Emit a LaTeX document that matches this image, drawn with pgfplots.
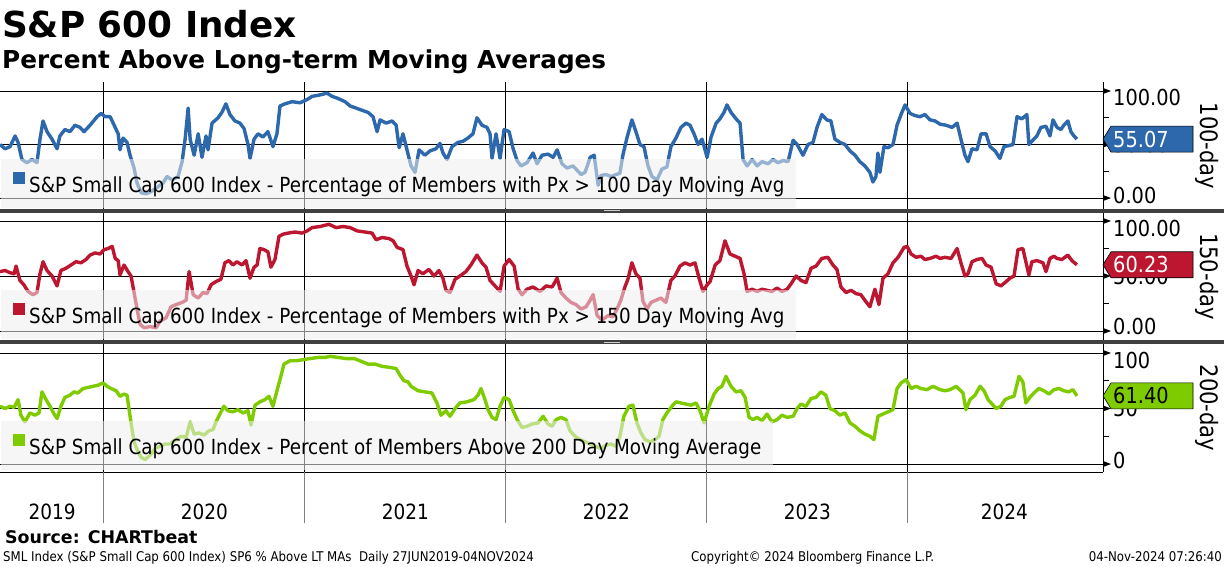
\documentclass[border=0pt]{standalone}
\usepackage{fontspec}
\setmainfont{DejaVu Sans}[FakeStretch=0.88]
\newfontfamily\bbold{DejaVu Sans}
\usepackage{pgfplots}
\pgfplotsset{compat=1.18}
\definecolor{bbblue}{RGB}{44,104,171}
\definecolor{bbred}{RGB}{189,22,48}
\definecolor{bbgreen}{RGB}{126,204,0}
\definecolor{legendgray}{RGB}{240,240,240}
\definecolor{sepgray}{RGB}{64,64,64}
\pgfplotsset{
  bbpanel/.style={
    scale only axis, width=1103pt,
    xmin=2019.483, xmax=2024.971,
    axis y line=right, axis x line=bottom,
    axis line style={-},
    x axis line style={draw=none},
    y axis line style={line width=0.9pt, black},
    xtick={2020,2021,2022,2023,2024},
    xticklabels={,,,,},
    xmajorgrids, ymajorgrids,
    major grid style={black, line width=0.9pt},
    ytick={0,50,100}, minor ytick={25,75},
    tick align=outside,
    major tick length=0pt, minor tick length=6pt,
    minor tick style={black, line width=0.9pt},
    /pgf/number format/assume math mode=true,
    yticklabel style={anchor=west, inner sep=0pt, xshift=10pt, text height=16pt, text depth=0pt, font=\fontsize{22}{22}\selectfont},
    clip=false,
    legend style={anchor=south west, fill=legendgray, fill opacity=0.55, text opacity=1, draw=none,
      inner xsep=12pt, inner ysep=13.5pt, font=\fontsize{20.8}{23}\selectfont,
      nodes={inner sep=0pt, text height=19.5pt, text depth=1.5pt},
      /tikz/every odd column/.append style={column sep=4pt}},
    legend cell align=left,
    legend image code/.code={\fill[##1, fill opacity=1, draw=none] (0pt,-0.5pt) rectangle (12pt,11.5pt);},
  }
}
\begin{document}
\begin{tikzpicture}
\useasboundingbox (0pt,0pt) rectangle (1224pt,-566pt);
\fill[white] (0pt,0pt) rectangle (1224pt,-566pt);
% ---------- Panel 1 : 100-day
\begin{axis}[bbpanel, at={(0pt,-210pt)}, anchor=south west, height=128pt,
  ymin=-11.2, ymax=108.4,
  yticklabels={{\raisebox{3pt}{0.00}},{50.00},{\raisebox{-7pt}{100.00}}},
  legend style={at={(0.0009,0.0156)}}]
\addplot[bbblue, line width=3.4pt, line join=round] coordinates {
(2019.483,50)(2019.508,46)(2019.533,48)(2019.558,58)(2019.573,52)(2019.592,36)(2019.617,33)(2019.642,36)(2019.667,33)(2019.682,55)(2019.697,72)(2019.717,62)(2019.742,55)(2019.767,46)(2019.781,58)(2019.806,64)(2019.831,62)(2019.856,68)(2019.881,66)(2019.901,62)(2019.931,68)(2019.966,76)(2019.986,79)(2020.006,76)(2020.031,76)(2020.056,66)(2020.071,60)(2020.080,45)(2020.095,56)(2020.115,52)(2020.130,40)(2020.150,28)(2020.165,14)(2020.185,5)(2020.210,4)(2020.235,6)(2020.265,10)(2020.294,14)(2020.314,20)(2020.339,17)(2020.369,20)(2020.389,34)(2020.404,55)(2020.419,84)(2020.429,55)(2020.449,40)(2020.469,60)(2020.488,38)(2020.508,58)(2020.518,45)(2020.538,70)(2020.568,75)(2020.587,80)(2020.607,88)(2020.627,78)(2020.652,72)(2020.677,70)(2020.697,65)(2020.717,50)(2020.727,37)(2020.747,55)(2020.767,60)(2020.791,57)(2020.816,62)(2020.841,48)(2020.861,60)(2020.876,86)(2020.901,88)(2020.936,90)(2020.976,89)(2021.011,92)(2021.036,95)(2021.066,96)(2021.090,97)(2021.110,98)(2021.135,95)(2021.165,93)(2021.200,90)(2021.225,86)(2021.255,84)(2021.284,82)(2021.314,80)(2021.339,76)(2021.359,62)(2021.374,73)(2021.404,70)(2021.434,72)(2021.454,68)(2021.469,47)(2021.488,60)(2021.508,45)(2021.528,30)(2021.548,24)(2021.568,45)(2021.597,40)(2021.622,44)(2021.652,46)(2021.672,51)(2021.687,42)(2021.707,36)(2021.732,48)(2021.762,52)(2021.786,53)(2021.811,56)(2021.836,60)(2021.856,75)(2021.881,68)(2021.906,66)(2021.921,60)(2021.931,37)(2021.951,60)(2021.971,37)(2021.991,64)(2022.016,62)(2022.036,46)(2022.056,35)(2022.075,30)(2022.105,33)(2022.135,42)(2022.155,32)(2022.180,40)(2022.210,41)(2022.235,38)(2022.255,45)(2022.279,32)(2022.304,28)(2022.334,30)(2022.354,26)(2022.374,22)(2022.394,24)(2022.419,38)(2022.439,40)(2022.459,12)(2022.473,21)(2022.498,22)(2022.523,20)(2022.548,22)(2022.567,23)(2022.582,40)(2022.602,56)(2022.627,73)(2022.647,62)(2022.667,50)(2022.687,48)(2022.707,30)(2022.727,20)(2022.752,17)(2022.776,27)(2022.801,29)(2022.821,48)(2022.846,56)(2022.871,66)(2022.896,70)(2022.916,68)(2022.936,60)(2022.956,50)(2022.976,55)(2023.001,38)(2023.021,57)(2023.046,70)(2023.065,74)(2023.085,80)(2023.100,87)(2023.120,80)(2023.145,74)(2023.165,70)(2023.180,36)(2023.200,30)(2023.225,36)(2023.250,30)(2023.274,34)(2023.304,32)(2023.329,36)(2023.354,33)(2023.379,35)(2023.404,34)(2023.429,54)(2023.449,50)(2023.478,40)(2023.503,50)(2023.528,52)(2023.548,66)(2023.572,78)(2023.597,73)(2023.617,72)(2023.637,55)(2023.662,52)(2023.687,50)(2023.712,44)(2023.737,40)(2023.761,34)(2023.786,30)(2023.811,24)(2023.826,15)(2023.841,20)(2023.851,42)(2023.861,24)(2023.881,48)(2023.901,47)(2023.926,50)(2023.946,68)(2023.966,78)(2023.986,87)(2024.011,79)(2024.036,77)(2024.060,76)(2024.085,78)(2024.110,73)(2024.135,72)(2024.160,69)(2024.190,68)(2024.220,66)(2024.245,70)(2024.264,55)(2024.284,40)(2024.299,34)(2024.319,46)(2024.344,45)(2024.364,60)(2024.389,60)(2024.409,48)(2024.434,44)(2024.458,37)(2024.478,48)(2024.503,49)(2024.523,50)(2024.543,76)(2024.567,74)(2024.592,78)(2024.602,50)(2024.622,54)(2024.642,58)(2024.662,66)(2024.687,67)(2024.707,58)(2024.722,73)(2024.742,66)(2024.761,64)(2024.776,68)(2024.796,72)(2024.811,62)(2024.826,58)(2024.841,55.07)
};
\addlegendentry{S\&P Small Cap 600 Index - Percentage of Members with Px > 100 Day Moving Avg}
\coordinate (a100) at (axis cs:2024.971,100);
\coordinate (a50) at (axis cs:2024.971,50);
\coordinate (a0) at (axis cs:2024.971,0);
\coordinate (t1) at (axis cs:2024.971,55.07);
\coordinate (r1) at (rel axis cs:1,0.5);
\end{axis}
\foreach \c in {a100,a50,a0} {\fill (\c) ++(0pt,3pt) -- ++(8pt,-3pt) -- ++(-8pt,-3pt) -- cycle;}
% ---------- Panel 2 : 150-day
\begin{axis}[bbpanel, at={(0pt,-340pt)}, anchor=south west, height=127pt,
  ymin=-8.18, ymax=107.27,
  yticklabels={{\raisebox{5pt}{0.00}},{50.00},{\raisebox{-7pt}{100.00}}},
  legend style={at={(0.0009,0.008)}}]
\addplot[bbred, line width=3.4pt, line join=round] coordinates {
(2019.483,54)(2019.508,55)(2019.533,53)(2019.553,52)(2019.563,59)(2019.582,46)(2019.602,42)(2019.622,36)(2019.647,33)(2019.667,35)(2019.682,52)(2019.697,63)(2019.717,55)(2019.742,50)(2019.767,41)(2019.786,55)(2019.811,57)(2019.836,60)(2019.861,63)(2019.886,62)(2019.911,65)(2019.931,69)(2019.956,71)(2019.981,70)(2020.001,74)(2020.021,75)(2020.041,77)(2020.056,66)(2020.071,64)(2020.080,51)(2020.100,60)(2020.120,54)(2020.135,50)(2020.150,35)(2020.165,20)(2020.180,6)(2020.200,3)(2020.230,4)(2020.260,3)(2020.279,9)(2020.309,12)(2020.334,22)(2020.359,24)(2020.389,26)(2020.409,28)(2020.424,54)(2020.444,33)(2020.469,30)(2020.493,35)(2020.513,34)(2020.533,42)(2020.558,45)(2020.582,47)(2020.602,62)(2020.622,64)(2020.642,60)(2020.662,63)(2020.687,60)(2020.707,64)(2020.727,48)(2020.747,58)(2020.762,60)(2020.776,75)(2020.796,74)(2020.816,72)(2020.831,58)(2020.851,65)(2020.871,86)(2020.891,88)(2020.916,89)(2020.951,90)(2020.986,89)(2021.011,91)(2021.036,94)(2021.075,95)(2021.120,97)(2021.155,94)(2021.190,95)(2021.225,94)(2021.260,91)(2021.299,90)(2021.334,89)(2021.354,83)(2021.384,85)(2021.419,84)(2021.439,82)(2021.459,76)(2021.488,74)(2021.508,59)(2021.528,50)(2021.543,42)(2021.563,55)(2021.587,52)(2021.617,56)(2021.642,50)(2021.667,55)(2021.687,48)(2021.702,37)(2021.722,35)(2021.747,47)(2021.771,50)(2021.801,54)(2021.826,60)(2021.856,69)(2021.881,62)(2021.901,58)(2021.921,46)(2021.941,42)(2021.971,36)(2021.991,59)(2022.016,65)(2022.041,59)(2022.061,38)(2022.080,33)(2022.105,38)(2022.135,40)(2022.170,36)(2022.200,41)(2022.230,40)(2022.255,48)(2022.274,35)(2022.299,30)(2022.324,26)(2022.349,24)(2022.374,20)(2022.399,22)(2022.419,28)(2022.434,33)(2022.454,14)(2022.478,10)(2022.508,14)(2022.533,13)(2022.553,20)(2022.572,28)(2022.592,40)(2022.607,47)(2022.627,62)(2022.647,52)(2022.667,48)(2022.682,27)(2022.702,20)(2022.722,26)(2022.747,28)(2022.771,30)(2022.796,26)(2022.821,46)(2022.841,50)(2022.866,59)(2022.891,62)(2022.916,60)(2022.941,62)(2022.961,48)(2022.981,36)(2023.001,42)(2023.016,45)(2023.041,60)(2023.065,64)(2023.090,82)(2023.115,70)(2023.140,68)(2023.165,66)(2023.185,52)(2023.200,36)(2023.225,38)(2023.250,36)(2023.274,38)(2023.299,37)(2023.324,36)(2023.349,39)(2023.374,36)(2023.399,38)(2023.419,43)(2023.444,50)(2023.468,46)(2023.493,44)(2023.518,57)(2023.543,59)(2023.572,66)(2023.602,67)(2023.627,60)(2023.647,56)(2023.667,40)(2023.692,35)(2023.717,37)(2023.742,34)(2023.766,33)(2023.786,28)(2023.811,22)(2023.836,38)(2023.856,24)(2023.876,48)(2023.901,52)(2023.926,62)(2023.951,67)(2023.981,76)(2023.996,77)(2024.016,70)(2024.041,67)(2024.065,68)(2024.085,65)(2024.110,66)(2024.140,68)(2024.160,66)(2024.185,67)(2024.215,66)(2024.245,75)(2024.264,62)(2024.284,50)(2024.299,52)(2024.319,63)(2024.344,65)(2024.369,66)(2024.389,60)(2024.414,58)(2024.439,43)(2024.463,41)(2024.483,44)(2024.508,48)(2024.528,50)(2024.548,74)(2024.572,75)(2024.602,51)(2024.617,63)(2024.642,64)(2024.672,62)(2024.687,54)(2024.707,66)(2024.727,68)(2024.742,66)(2024.766,65)(2024.796,69)(2024.816,64)(2024.841,60.23)
};
\addlegendentry{S\&P Small Cap 600 Index - Percentage of Members with Px > 150 Day Moving Avg}
\coordinate (b100) at (axis cs:2024.971,100);
\coordinate (b50) at (axis cs:2024.971,50);
\coordinate (b0) at (axis cs:2024.971,0);
\coordinate (t2) at (axis cs:2024.971,60.23);
\coordinate (r2) at (rel axis cs:1,0.5);
\end{axis}
\foreach \c in {b100,b50,b0} {\fill (\c) ++(0pt,3pt) -- ++(8pt,-3pt) -- ++(-8pt,-3pt) -- cycle;}
% ---------- Panel 3 : 200-day
\begin{axis}[bbpanel, at={(0pt,-472pt)}, anchor=south west, height=128pt,
  ymin=-7.2, ymax=108.1,
  x axis line style={draw=black, line width=0.9pt},
  yticklabels={{\raisebox{4pt}{0}},{50},{\raisebox{-7pt}{100}}},
  extra x ticks={2019.742,2020.5,2021.5,2022.5,2023.5,2024.48},
  extra x tick labels={2019,2020,2021,2022,2023,2024},
  extra x tick style={grid=none, xticklabel style={anchor=base, yshift=-47pt, inner sep=0pt, font=\fontsize{21}{21}\selectfont}},
  legend style={at={(0.0009,0.0156)}}]
\addplot[bbgreen, line width=3.4pt, line join=round] coordinates {
(2019.483,52)(2019.508,50)(2019.533,52)(2019.553,51)(2019.573,58)(2019.587,44)(2019.607,38)(2019.632,46)(2019.657,44)(2019.677,46)(2019.692,65)(2019.712,58)(2019.732,52)(2019.752,45)(2019.767,41)(2019.786,52)(2019.806,60)(2019.831,62)(2019.851,65)(2019.871,64)(2019.896,68)(2019.921,69)(2019.946,70)(2019.971,71)(2019.996,73)(2020.016,70)(2020.036,68)(2020.061,66)(2020.080,61)(2020.100,63)(2020.115,62)(2020.135,37)(2020.150,20)(2020.165,13)(2020.185,6)(2020.205,4)(2020.230,8)(2020.255,14)(2020.279,16)(2020.304,18)(2020.329,18)(2020.359,22)(2020.384,25)(2020.409,24)(2020.429,38)(2020.449,27)(2020.474,28)(2020.498,26)(2020.523,30)(2020.543,31)(2020.558,38)(2020.577,45)(2020.597,52)(2020.617,48)(2020.642,47)(2020.667,49)(2020.692,46)(2020.717,48)(2020.732,35)(2020.752,53)(2020.776,56)(2020.801,58)(2020.821,61)(2020.841,52)(2020.861,66)(2020.876,76)(2020.896,90)(2020.926,93)(2020.956,93)(2020.991,94)(2021.026,95)(2021.066,96)(2021.100,96)(2021.125,97)(2021.165,96)(2021.205,95)(2021.245,95)(2021.274,93)(2021.314,90)(2021.349,90)(2021.384,88)(2021.424,87)(2021.454,86)(2021.473,80)(2021.493,75)(2021.513,74)(2021.528,70)(2021.563,66)(2021.597,65)(2021.632,64)(2021.657,55)(2021.677,44)(2021.702,48)(2021.722,43)(2021.747,50)(2021.771,55)(2021.806,56)(2021.841,58)(2021.861,62)(2021.876,68)(2021.896,58)(2021.911,49)(2021.931,42)(2021.951,40)(2021.971,52)(2021.991,60)(2022.016,58)(2022.036,48)(2022.056,40)(2022.080,33)(2022.105,34)(2022.130,36)(2022.160,37)(2022.185,43)(2022.210,36)(2022.230,34)(2022.250,40)(2022.274,42)(2022.299,40)(2022.319,30)(2022.344,25)(2022.369,22)(2022.394,20)(2022.419,18)(2022.444,16)(2022.473,14)(2022.498,17)(2022.523,18)(2022.548,16)(2022.567,25)(2022.587,43)(2022.612,52)(2022.632,53)(2022.652,37)(2022.672,28)(2022.692,22)(2022.717,20)(2022.742,22)(2022.762,25)(2022.781,40)(2022.801,46)(2022.826,52)(2022.846,56)(2022.871,55)(2022.896,54)(2022.921,53)(2022.946,55)(2022.966,48)(2022.986,37)(2023.011,52)(2023.036,63)(2023.056,68)(2023.075,70)(2023.095,79)(2023.120,70)(2023.145,65)(2023.170,66)(2023.190,60)(2023.210,42)(2023.230,40)(2023.250,42)(2023.274,39)(2023.299,45)(2023.324,38)(2023.349,40)(2023.374,44)(2023.399,42)(2023.429,43)(2023.449,50)(2023.468,54)(2023.493,52)(2023.518,59)(2023.543,60)(2023.567,65)(2023.592,62)(2023.612,50)(2023.637,48)(2023.662,44)(2023.687,46)(2023.712,37)(2023.737,34)(2023.761,30)(2023.786,27)(2023.811,25)(2023.831,22)(2023.851,43)(2023.876,45)(2023.901,47)(2023.926,49)(2023.946,68)(2023.966,73)(2023.991,76)(2024.016,68)(2024.041,70)(2024.065,68)(2024.095,67)(2024.125,70)(2024.160,67)(2024.185,66)(2024.210,67)(2024.240,70)(2024.274,64)(2024.289,49)(2024.309,58)(2024.334,62)(2024.359,70)(2024.379,66)(2024.399,58)(2024.419,54)(2024.439,50)(2024.463,52)(2024.483,58)(2024.508,60)(2024.528,61)(2024.553,79)(2024.572,74)(2024.587,55)(2024.607,60)(2024.627,64)(2024.652,68)(2024.677,66)(2024.702,63)(2024.727,67)(2024.752,68)(2024.776,66)(2024.801,65)(2024.821,67)(2024.841,61.40)
};
\addlegendentry{S\&P Small Cap 600 Index - Percent of Members Above 200 Day Moving Average}
\coordinate (c100) at (axis cs:2024.971,100);
\coordinate (c50) at (axis cs:2024.971,50);
\coordinate (c0) at (axis cs:2024.971,0);
\coordinate (y20) at (axis cs:2020,-7.2);
\coordinate (y21) at (axis cs:2021,-7.2);
\coordinate (y22) at (axis cs:2022,-7.2);
\coordinate (y23) at (axis cs:2023,-7.2);
\coordinate (y24) at (axis cs:2024,-7.2);
\coordinate (t3) at (axis cs:2024.971,61.40);
\coordinate (r3) at (rel axis cs:1,0.5);
\end{axis}
\foreach \c in {c100,c50,c0} {\fill (\c) ++(0pt,3pt) -- ++(8pt,-3pt) -- ++(-8pt,-3pt) -- cycle;}
\foreach \c in {y20,y21,y22,y23,y24} {\draw[gray, line width=1pt] (\c) -- ++(0pt,-51pt);}
% ---------- separators
\fill[sepgray] (0pt,-208.5pt) rectangle (1224pt,-212.5pt);
\fill[sepgray] (0pt,-340pt) rectangle (1224pt,-344pt);
\draw[gray!35, line width=1pt] (604pt,-210.5pt) -- (620pt,-210.5pt);
\draw[gray!35, line width=1pt] (604pt,-342pt) -- (620pt,-342pt);
% ---------- value tags
\fill[bbblue, draw=black, line width=0.6pt] (t1) -- ++(8pt,13pt) -- ++(82pt,0pt) -- ++(0pt,-26pt) -- ++(-82pt,0pt) -- cycle;
\node[anchor=west, inner sep=0pt, text=white, text height=16pt, text depth=0pt, font=\fontsize{22}{22}\selectfont] at ([xshift=10pt]t1) {55.07};
\fill[bbred, draw=black, line width=0.6pt] (t2) -- ++(8pt,13pt) -- ++(82pt,0pt) -- ++(0pt,-26pt) -- ++(-82pt,0pt) -- cycle;
\node[anchor=west, inner sep=0pt, text=white, text height=16pt, text depth=0pt, font=\fontsize{22}{22}\selectfont] at ([xshift=10pt]t2) {60.23};
\fill[bbgreen, draw=black, line width=0.6pt] (t3) -- ++(8pt,13pt) -- ++(82pt,0pt) -- ++(0pt,-26pt) -- ++(-82pt,0pt) -- cycle;
\node[anchor=west, inner sep=0pt, text=black, text height=16pt, text depth=0pt, font=\fontsize{22}{22}\selectfont] at ([xshift=10pt]t3) {61.40};
% ---------- right labels
\node[rotate=-90, inner sep=0pt, font=\fontsize{24}{24}\selectfont] at ([xshift=104pt]r1) {100-day};
\node[rotate=-90, inner sep=0pt, font=\fontsize{24}{24}\selectfont] at ([xshift=104pt]r2) {150-day};
\node[rotate=-90, inner sep=0pt, font=\fontsize{24}{24}\selectfont] at ([xshift=104pt]r3) {200-day};
% ---------- titles and footer
\node[anchor=base west, inner sep=0pt, font=\bbold\bfseries\fontsize{35.8}{40}\selectfont] at (2pt,-37pt) {S\&P 600 Index};
\node[anchor=base west, inner sep=0pt, font=\bbold\bfseries\fontsize{24.7}{28}\selectfont] at (2pt,-68pt) {Percent Above Long-term Moving Averages};
\node[anchor=base west, inner sep=0pt, font=\bbold\bfseries\fontsize{17.4}{20}\selectfont] at (5pt,-543pt) {Source: CHARTbeat};
\node[anchor=base west, inner sep=0pt, font=\fontsize{13.4}{15}\selectfont] at (3pt,-561.5pt) {SML Index (S\&P Small Cap 600 Index) SP6 \% Above LT MAs\ \ Daily 27JUN2019-04NOV2024};
\node[anchor=base west, inner sep=0pt, font=\fontsize{13.4}{15}\selectfont] at (691pt,-561.5pt) {Copyright© 2024 Bloomberg Finance L.P.};
\node[anchor=base east, inner sep=0pt, font=\fontsize{13.4}{15}\selectfont] at (1222pt,-561.5pt) {04-Nov-2024 07:26:40};
\end{tikzpicture}
\end{document}
